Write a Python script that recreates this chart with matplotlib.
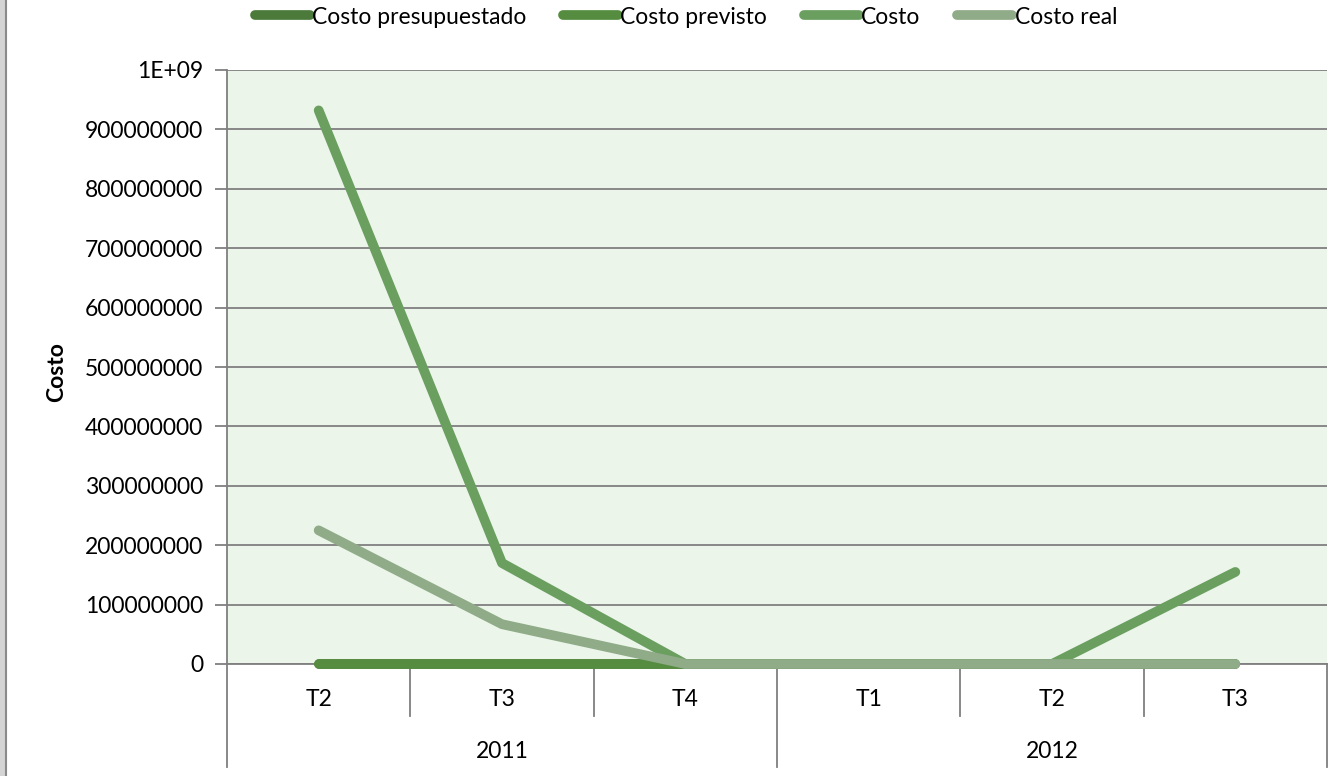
import matplotlib.pyplot as plt
from matplotlib.patches import Rectangle
from matplotlib.lines import Line2D
from matplotlib.legend_handler import HandlerLine2D

plt.rcParams['font.family'] = ['Lato', 'DejaVu Sans']

# Data
quarters = ["T2", "T3", "T4", "T1", "T2", "T3"]
years = ["2011", "2012"]
year_spans = [(0, 3), (3, 6)]

costo_presupuestado = [0, 0, 0, 0, 0, 0]
costo_previsto = [0, 0, 0, 0, 0, 0]
costo = [932e6, 170e6, 0, 0, 0, 155e6]
costo_real = [225e6, 67e6, 0, 0, 0, 0]

series = [
    ("Costo presupuestado", costo_presupuestado, "#4b7a3b"),
    ("Costo previsto", costo_previsto, "#558c3f"),
    ("Costo", costo, "#6b9f60"),
    ("Costo real", costo_real, "#8fab87"),
]

fs = 16.5

fig = plt.figure(figsize=(13.4, 7.76), dpi=100)
fig.patches.append(Rectangle((0, 0), 7 / 1340, 1, transform=fig.transFigure,
                             facecolor="#d4d4d4", edgecolor="none"))
fig.lines.append(Line2D([6 / 1340, 6 / 1340], [0, 1], transform=fig.transFigure,
                        color="#8a8a8a", lw=1.5))

ax = fig.add_axes([227 / 1340, 1 - 664 / 776, 1100 / 1340, 594 / 776])
ax.set_facecolor("#ebf5ea")

x = [i + 0.5 for i in range(len(quarters))]
handles = []
for name, vals, col in series:
    h, = ax.plot(x, vals, color=col, lw=7, solid_capstyle="round",
                 solid_joinstyle="round", label=name, clip_on=False, zorder=3)
    handles.append(h)

ax.set_xlim(0, 6)
ax.set_ylim(0, 1e9)
ticks = [i * 1e8 for i in range(11)]
ax.set_yticks(ticks)
ax.set_yticklabels([f"{int(t)}" for t in ticks[:-1]] + ["1E+09"])
ax.yaxis.grid(True, color="#7f7f7f", lw=1.3)
ax.set_axisbelow(True)
ax.tick_params(axis="y", length=9, width=1.3, color="#7f7f7f", labelsize=fs, pad=8)
ax.set_xticks([])
for s in ["top", "right"]:
    ax.spines[s].set_visible(False)
ax.spines["left"].set_color("#7f7f7f")
ax.spines["left"].set_linewidth(1.3)
ax.spines["bottom"].set_color("#7f7f7f")
ax.spines["bottom"].set_linewidth(1.3)

ax.text(57 / 1340, 1 - 372 / 776, "Costo", transform=fig.transFigure, rotation=90,
        ha="center", va="center", fontsize=fs, fontweight="bold")

# multi-level category axis
tr = ax.get_xaxis_transform()
px = 1 / 594
for i, q in enumerate(quarters):
    ax.text(i + 0.5, -36 * px, q, transform=tr, ha="center", va="center", fontsize=fs)
for i in range(1, 6):
    if i == 3:
        continue
    ax.plot([i, i], [0, -52 * px], transform=tr, color="#7f7f7f", lw=1.3, clip_on=False)
for xi in [0, 3, 6]:
    ax.plot([xi, xi], [0, -103 * px], transform=tr, color="#7f7f7f", lw=1.3, clip_on=False)
for (a, b), yr in zip(year_spans, years):
    ax.text((a + b) / 2, -88 * px, yr, transform=tr, ha="center", va="center", fontsize=fs)


def round_caps(legend_line, orig):
    legend_line.update_from(orig)
    legend_line.set_solid_capstyle("round")


fig.legend(handles=handles, loc="center", bbox_to_anchor=(686 / 1340, 1 - 17 / 776),
           ncol=4, frameon=False, fontsize=fs, handlelength=2.4, handletextpad=0.1,
           columnspacing=1.6,
           handler_map={Line2D: HandlerLine2D(update_func=round_caps)})

fig.savefig("out.png", dpi=100)
